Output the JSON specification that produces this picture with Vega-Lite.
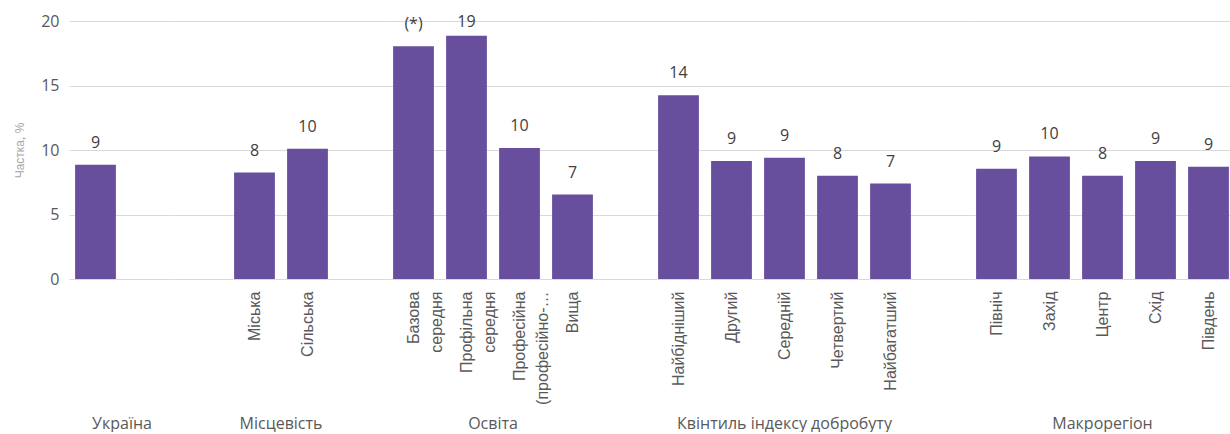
{
  "$schema": "https://vega.github.io/schema/vega-lite/v6.json",
  "padding": {"left": 13, "top": 13, "right": 0, "bottom": 0},
  "background": "white",
  "data": {
    "values": [
      {"group": "Україна", "cat": "Україна", "value": 8.85, "label": "9"},
      {"group": "Україна", "cat": "_u1", "value": null, "label": null},
      {"group": "Місцевість", "cat": "_m1", "value": null, "label": null},
      {"group": "Місцевість", "cat": "Міська", "value": 8.25, "label": "8"},
      {"group": "Місцевість", "cat": "Сільська", "value": 10.1, "label": "10"},
      {"group": "Місцевість", "cat": "_m2", "value": null, "label": null},
      {"group": "Освіта", "cat": "Базова|середня", "value": 18.05, "label": "(*)"},
      {"group": "Освіта", "cat": "Профільна|середня", "value": 18.85, "label": "19"},
      {"group": "Освіта", "cat": "Професійна|(професійно-…", "value": 10.15, "label": "10"},
      {"group": "Освіта", "cat": "Вища", "value": 6.55, "label": "7"},
      {"group": "Квінтиль індексу добробуту", "cat": "_q1", "value": null, "label": null},
      {"group": "Квінтиль індексу добробуту", "cat": "Найбідніший", "value": 14.25, "label": "14"},
      {"group": "Квінтиль індексу добробуту", "cat": "Другий", "value": 9.15, "label": "9"},
      {"group": "Квінтиль індексу добробуту", "cat": "Середній", "value": 9.4, "label": "9"},
      {"group": "Квінтиль індексу добробуту", "cat": "Четвертий", "value": 8.0, "label": "8"},
      {"group": "Квінтиль індексу добробуту", "cat": "Найбагатший", "value": 7.4, "label": "7"},
      {"group": "Квінтиль індексу добробуту", "cat": "_q2", "value": null, "label": null},
      {"group": "Макрорегіон", "cat": "Північ", "value": 8.55, "label": "9"},
      {"group": "Макрорегіон", "cat": "Захід", "value": 9.5, "label": "10"},
      {"group": "Макрорегіон", "cat": "Центр", "value": 8.0, "label": "8"},
      {"group": "Макрорегіон", "cat": "Схід", "value": 9.15, "label": "9"},
      {"group": "Макрорегіон", "cat": "Південь", "value": 8.7, "label": "9"}
    ]
  },
  "facet": {
    "column": {
      "field": "group",
      "type": "nominal",
      "sort": ["Україна", "Місцевість", "Освіта", "Квінтиль індексу добробуту", "Макрорегіон"],
      "header": {
        "title": null,
        "labelOrient": "bottom",
        "labelFont": "Open Sans",
        "labelFontSize": 16,
        "labelColor": "#595959",
        "labelPadding": 11
      }
    }
  },
  "spacing": 0,
  "align": "none",
  "resolve": {"scale": {"x": "independent"}},
  "spec": {
    "width": {"step": 53},
    "height": 258,
    "encoding": {
      "x": {
        "field": "cat",
        "type": "nominal",
        "sort": null,
        "scale": {"paddingInner": 0.23, "paddingOuter": 0.115},
        "axis": {
          "title": null,
          "domain": false,
          "ticks": false,
          "labelAngle": -90,
          "labelExpr": "(indexof(datum.value, '_') == 0 || datum.value == 'Україна') ? '' : split(datum.value, '|')",
          "labelFont": "Liberation Sans",
          "labelFontSize": 16,
          "labelColor": "#595959",
          "labelLineHeight": 23,
          "labelPadding": 12,
          "labelOverlap": false,
          "labelLimit": 200
        }
      }
    },
    "layer": [
      {
        "mark": {"type": "text", "opacity": 0},
        "encoding": {"text": {"value": ""}}
      },
      {
        "mark": {"type": "bar", "color": "#684F9E"},
        "encoding": {
          "y": {
            "field": "value",
            "type": "quantitative",
            "scale": {"domain": [0, 20]},
            "axis": {
              "title": "Частка, %",
              "titleFont": "Liberation Sans",
              "titleFontSize": 12,
              "titleFontWeight": "normal",
              "titleColor": "#a6a6a6",
              "titlePadding": 14,
              "values": [0, 5, 10, 15, 20],
              "domain": false,
              "ticks": false,
              "grid": true,
              "gridColor": "#d9d9d9",
              "gridWidth": 1,
              "labelFont": "Open Sans",
              "labelFontSize": 16,
              "labelColor": "#595959",
              "labelPadding": 10
            }
          }
        }
      },
      {
        "transform": [{"filter": "datum.value <= 18.5"}],
        "mark": {
          "type": "text",
          "baseline": "alphabetic",
          "dy": -17,
          "font": "Open Sans",
          "fontSize": 16,
          "color": "#404040"
        },
        "encoding": {
          "y": {"field": "value", "type": "quantitative"},
          "text": {"field": "label"}
        }
      },
      {
        "transform": [{"filter": "datum.value > 18.5"}],
        "mark": {
          "type": "text",
          "baseline": "alphabetic",
          "dy": -9,
          "font": "Open Sans",
          "fontSize": 16,
          "color": "#404040"
        },
        "encoding": {
          "y": {"field": "value", "type": "quantitative"},
          "text": {"field": "label"}
        }
      }
    ]
  },
  "config": {
    "view": {"stroke": null},
    "axis": {"gridColor": "#d9d9d9"}
  }
}
